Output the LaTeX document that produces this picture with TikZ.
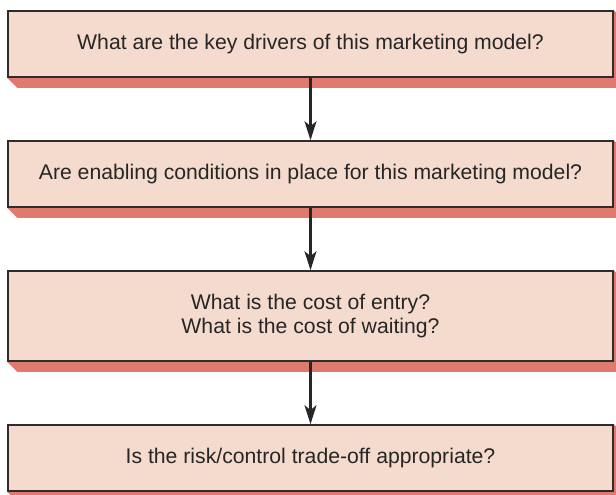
\documentclass[tikz,border=0pt]{standalone}
\usepackage{fontspec}
\setmainfont{Liberation Sans}
\usepackage{xcolor}
\usetikzlibrary{arrows.meta,calc,backgrounds}

\definecolor{boxfill}{HTML}{F5DBCE}
\definecolor{boxline}{HTML}{2E2C2C}
\definecolor{shadowred}{HTML}{E07A6E}

\tikzset{
  qbox/.style={draw=boxline, fill=boxfill, line width=1.6pt, minimum width=605pt,
    minimum height=66pt, align=center, inner sep=0pt,
    font=\fontsize{21.2pt}{23.5pt}\selectfont, text=black!85},
  flow/.style={-{Stealth[length=19pt, width=12pt, inset=5pt]}, line width=2.2pt, black!85}
}

\begin{document}
\begin{tikzpicture}[x=1pt, y=1pt]
\useasboundingbox (0, 0) rectangle (616, 495);

% Question boxes
\node[qbox] (q1) at (310.5, 451) {What are the key drivers of this marketing model?};
\node[qbox] (q2) at (310.5, 321) {Are enabling conditions in place for this marketing model?};
\node[qbox, minimum height=90pt] (q3) at (310.5, 179) {What is the cost of entry?\\What is the cost of waiting?};
\node[qbox] (q4) at (310.5, 37) {Is the risk/control trade-off appropriate?};

% Shadows behind the boxes
\begin{scope}[on background layer]
\foreach \q in {q1, q2, q3, q4}
  \fill[shadowred] (\q.south west) -- ++(10, -10) -- ($(\q.south east) + (3, -10)$)
    -- ($(\q.north east) + (3, -3)$) -- (\q.north east) -- cycle;
\end{scope}

% Arrows
\draw[flow] (q1) -- (q2);
\draw[flow] (q2) -- (q3);
\draw[flow] (q3) -- (q4);

\end{tikzpicture}
\end{document}
